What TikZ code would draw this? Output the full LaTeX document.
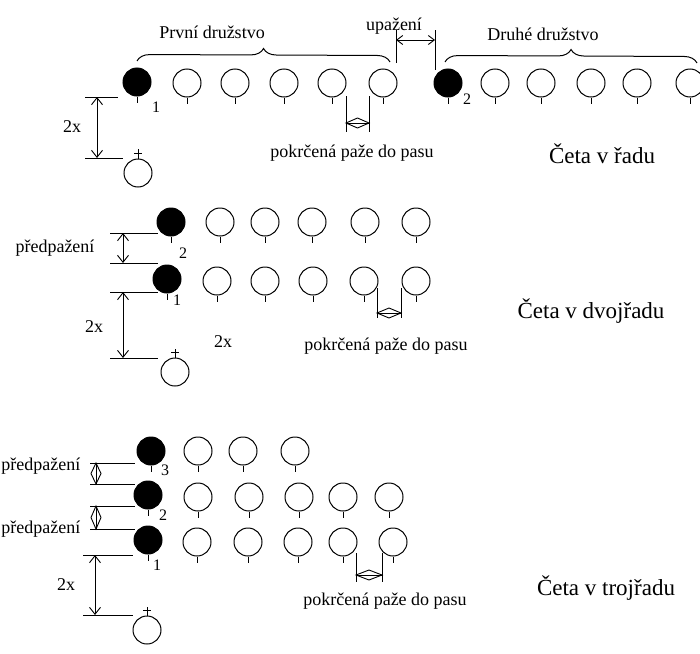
\documentclass[tikz,border=0pt]{standalone}
\usepackage{fontspec}
\setmainfont{Liberation Serif}
\usetikzlibrary{arrows.meta,decorations.pathreplacing,calc}
\newcommand{\dmd}[3]{\draw[dim] (#1) -- ($(#1)!.5!(#2)+#3$) -- (#2) -- ($(#1)!.5!(#2)-#3$) -- cycle; \draw[dim] (#1) -- (#2);}
\begin{document}
\begin{tikzpicture}[x=1pt,y=-1pt, line width=1pt,
  pers/.style={circle, draw, minimum size=28pt, inner sep=0pt, line width=1pt},
  lead/.style={pers, fill=black},
  lbl/.style={font=\fontsize{18}{20}\selectfont, anchor=base, inner sep=0pt},
  num/.style={font=\fontsize{16}{18}\selectfont, anchor=base, inner sep=0pt},
  ttl/.style={font=\fontsize{23}{26}\selectfont, anchor=base, inner sep=0pt},
  dim/.style={line width=0.9pt},
  barb/.style={{Straight Barb[length=7pt,width=11pt]}-{Straight Barb[length=7pt,width=11pt]}},
  sbarb/.style={{Straight Barb[length=6pt,width=9pt]}-{Straight Barb[length=6pt,width=9pt]}},
  brc/.style={decorate, decoration={brace, amplitude=13pt}},
]
\useasboundingbox (0,0) rectangle (700,653);
\fill[white] (0,0) rectangle (700,653);

% ---------- top: Četa v řadu ----------
\node[lead] (t1) at (137,82) {};
\draw (t1.south) -- ++(0,6);
\foreach \i/\x in {2/187,3/235,4/284,5/332,6/383}{
  \node[pers] (ta\i) at (\x,83) {};
  \draw (ta\i.south) -- ++(0,6);
}
\node[lead] (t2) at (448,83) {};
\draw (t2.south) -- ++(0,6);
\foreach \i/\x in {2/495,3/541,4/591,5/637,6/690}{
  \node[pers] (tb\i) at (\x,83) {};
  \draw (tb\i.south) -- ++(0,6);
}
\node[pers] (c1) at (138,173) {};
\draw (c1.north) -- ++(0,-10);
\draw ($(c1.north)+(-4,-5)$) -- ++(8,0);

\node[num] (n1) at (156,112) {1};
\node[num] (n2) at (467,104) {2};

\draw[brc] (137,61) -- (390,62);
\draw[brc] (445,62) -- (697,63);
\node[lbl] (prvni) at (212,38) {První družstvo};
\node[lbl] (druhe) at (543,40) {Druhé družstvo};

\draw[dim] (396,30) -- (396,63);
\draw[dim] (435,30) -- (435,70);
\coordinate (u1) at (396,40); \coordinate (u2) at (435,40);
\draw[dim,sbarb] (u1) -- (u2);
\node[lbl] (upaz) at (394,30) {upažení};

\draw[dim] (85,97) -- (118,97);
\draw[dim] (85,158) -- (123,158);
\coordinate (a1) at (97,97); \coordinate (a2) at (97,158);
\draw[dim,barb] (a1) -- (a2);
\node[lbl] (x1) at (72,132) {2x};

\draw[dim] (346,96) -- (346,132);
\draw[dim] (369,96) -- (369,132);
\coordinate (p1) at (346,123); \coordinate (p2) at (369,123);
\dmd{p1}{p2}{(0,-5)}
\node[lbl] (pk1) at (352,157) {pokrčená paže do pasu};
\node[ttl] (ceta1) at (602,163) {Četa v řadu};

% ---------- middle: Četa v dvojřadu ----------
\node[lead] (m2) at (171,222) {};
\draw (m2.south) -- ++(0,6);
\foreach \i/\x in {2/220,3/265,4/312,5/365,6/416}{
  \node[pers] (mb\i) at (\x,222) {};
  \draw (mb\i.south) -- ++(0,6);
}
\node[lead] (m1) at (167,279) {};
\draw (m1.south) -- ++(0,6);
\foreach \i/\x in {2/217,3/265,4/313,5/364,6/416}{
  \node[pers] (ma\i) at (\x,281) {};
  \draw (ma\i.south) -- ++(0,6);
}
\node[pers] (c2) at (175,372) {};
\draw (c2.north) -- ++(0,-9);
\draw ($(c2.north)+(-4,-5)$) -- ++(8,0);

\node[num] (n3) at (183,258) {2};
\node[num] (n4) at (177,305) {1};

\draw[dim] (110,233) -- (158,233);
\draw[dim] (110,263) -- (158,263);
\draw[dim] (110,292) -- (158,292);
\draw[dim] (110,358) -- (158,358);
\coordinate (b1) at (123,233); \coordinate (b2) at (123,263);
\draw[dim,barb] (b1) -- (b2);
\coordinate (b3) at (123,292); \coordinate (b4) at (123,358);
\draw[dim,barb] (b3) -- (b4);
\node[lbl] (pp1) at (55,252) {předpažení};
\node[lbl] (x2) at (94,332) {2x};
\node[lbl] (x3) at (223,347) {2x};

\draw[dim] (377,288) -- (377,318);
\draw[dim] (401,288) -- (401,318);
\coordinate (p3) at (377,313); \coordinate (p4) at (401,313);
\dmd{p3}{p4}{(0,-5)}
\node[lbl] (pk2) at (386,350) {pokrčená paže do pasu};
\node[ttl] (ceta2) at (591,318) {Četa v dvojřadu};

% ---------- bottom: Četa v trojřadu ----------
\node[lead] (r3) at (151,451) {};
\draw (r3.south) -- ++(0,6);
\foreach \i/\x in {2/198,3/243,4/295}{
  \node[pers] (rc\i) at (\x,451) {};
  \draw (rc\i.south) -- ++(0,6);
}
\node[lead] (r2) at (148,495) {};
\draw (r2.south) -- ++(0,6);
\foreach \i/\x in {2/198,3/249,4/299,5/343,6/389}{
  \node[pers] (rb\i) at (\x,497) {};
  \draw (rb\i.south) -- ++(0,6);
}
\node[lead] (r1) at (148,540) {};
\draw (r1.south) -- ++(0,6);
\foreach \i/\x in {2/197,3/248,4/298,5/343,6/393}{
  \node[pers] (ra\i) at (\x,542) {};
  \draw (ra\i.south) -- ++(0,6);
}
\node[pers] (c3) at (147,630) {};
\draw (c3.north) -- ++(0,-9);
\draw ($(c3.north)+(-4,-5)$) -- ++(8,0);

\node[num] (n5) at (165,475) {3};
\node[num] (n6) at (163,520) {2};
\node[num] (n7) at (157,570) {1};

\draw[dim] (90,463) -- (135,463);
\draw[dim] (90,484) -- (135,484);
\draw[dim] (90,506) -- (135,506);
\draw[dim] (90,529) -- (135,529);
\draw[dim] (83,555) -- (133,555);
\draw[dim] (83,615) -- (133,615);
\coordinate (e1) at (96,463); \coordinate (e2) at (96,484);
\dmd{e1}{e2}{(5,0)}
\coordinate (e3) at (96,506); \coordinate (e4) at (96,529);
\dmd{e3}{e4}{(5,0)}
\coordinate (e5) at (95,555); \coordinate (e6) at (95,615);
\draw[dim,barb] (e5) -- (e6);
\node[lbl, anchor=base west] (pp2) at (1,470) {předpažení};
\node[lbl, anchor=base west] (pp3) at (1,533) {předpažení};
\node[lbl] (x4) at (66,590) {2x};

\draw[dim] (356,553) -- (356,582);
\draw[dim] (382,553) -- (382,582);
\coordinate (p5) at (356,575); \coordinate (p6) at (382,575);
\dmd{p5}{p6}{(0,-5)}
\node[lbl] (pk3) at (385,605) {pokrčená paže do pasu};
\node[ttl] (ceta3) at (606,595) {Četa v trojřadu};
\end{tikzpicture}
\end{document}
